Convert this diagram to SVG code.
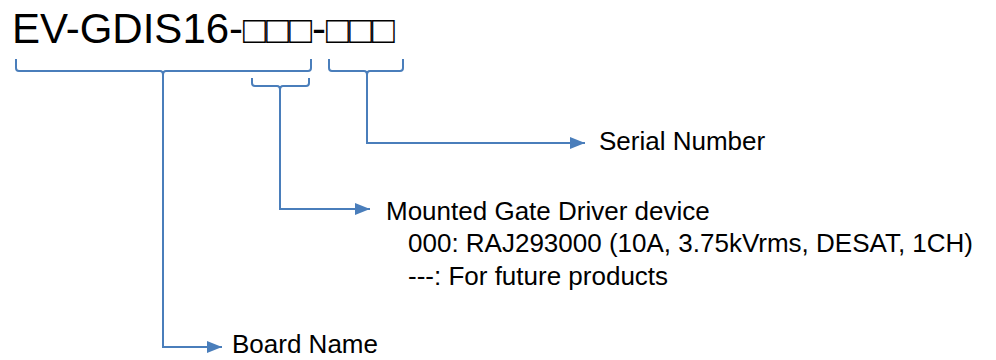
<svg xmlns="http://www.w3.org/2000/svg" width="996" height="360" viewBox="0 0 996 360">
<style>
  text { font-family: "Liberation Sans", Arial, sans-serif; fill: #000; }
  .title { font-size: 42px; }
  .box { font-size: 38px; }
  .lbl { font-size: 26px; }
  .ln { fill: none; stroke: #4A7EBB; stroke-width: 2; }
</style>
<defs>
  <marker id="ah" markerWidth="15" markerHeight="12" refX="15" refY="6" orient="auto" markerUnits="userSpaceOnUse">
    <path d="M0,0 L15,6 L0,12 Z" fill="#4A7EBB"/>
  </marker>
</defs>
<rect width="996" height="360" fill="#fff"/>
<g id="title">
  <text class="title" x="12" y="43">EV-GDIS16-<tspan class="box">□□□</tspan>-<tspan class="box">□□□</tspan></text>
</g>
<g id="brackets">
  <path class="ln" d="M16,59 V68 Q16,71 19,71 H160 Q163,71 163,75 Q163,71 166,71 H308 Q311,71 311,68 V59"/>
  <path class="ln" d="M252,78 V83 Q252,86 255,86 H277 Q280,86 280,90 Q280,86 283,86 H306 Q309,86 309,83 V78"/>
  <path class="ln" d="M329,59 V68 Q329,71 332,71 H364 Q367,71 367,75 Q367,71 370,71 H400 Q403,71 403,68 V59"/>
</g>
<g id="connectors">
  <path class="ln" d="M367,74 V143 H585" marker-end="url(#ah)"/>
  <path class="ln" d="M280,89 V209 H370" marker-end="url(#ah)"/>
  <path class="ln" d="M163,74 V347 H222" marker-end="url(#ah)"/>
</g>
<g id="serial">
  <text class="lbl" x="599" y="150">Serial Number</text>
</g>
<g id="gate-driver">
  <text class="lbl" x="386" y="220">Mounted Gate Driver device</text>
  <text class="lbl" x="408" y="252">000: RAJ293000 (10A, 3.75kVrms, DESAT, 1CH)</text>
  <text class="lbl" x="408" y="285">---: For future products</text>
</g>
<g id="board-name">
  <text class="lbl" x="232" y="353">Board Name</text>
</g>
</svg>
